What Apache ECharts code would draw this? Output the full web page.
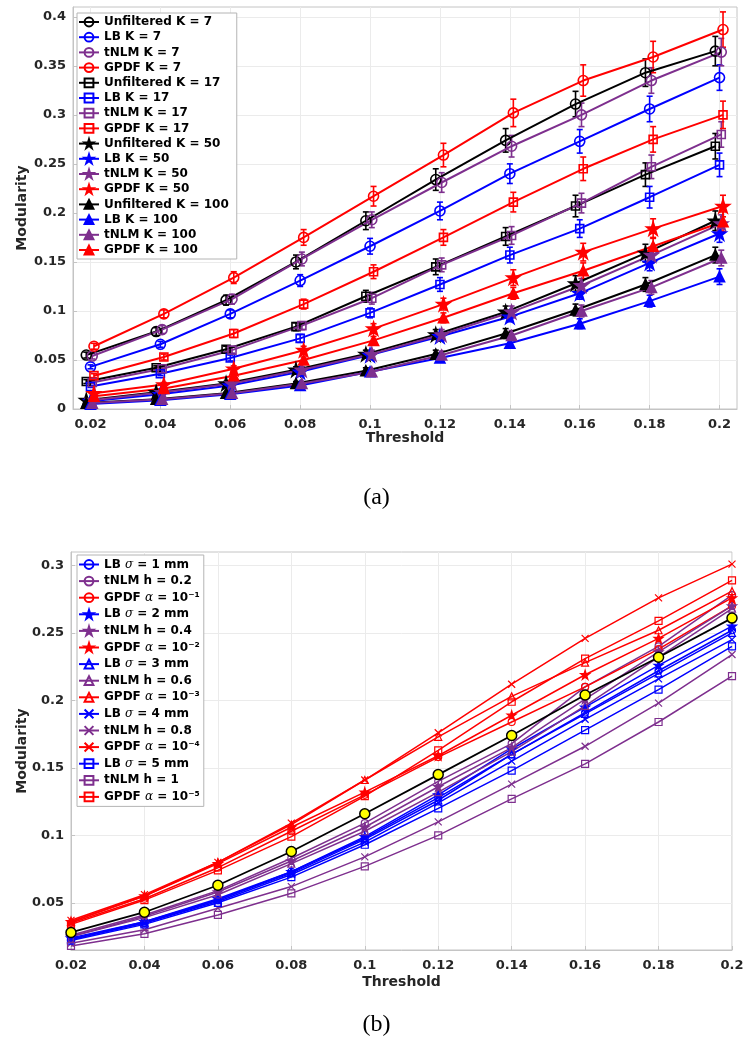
<!DOCTYPE html>
<html><head><meta charset="utf-8">
<script src="https://cdn.jsdelivr.net/npm/echarts@6/dist/echarts.min.js"></script>
<style>html,body{margin:0;padding:0;background:#fff}#c{width:753px;height:1050px}</style>
</head><body><div id="c"></div>
<script>
// ---------- shared ----------
const thresholds = [0.02, 0.04, 0.06, 0.08, 0.10, 0.12, 0.14, 0.16, 0.18, 0.20];
const xTicks = [0.02, 0.04, 0.06, 0.08, 0.10, 0.12, 0.14, 0.16, 0.18, 0.20];
const yTicksA = [0, 0.05, 0.10, 0.15, 0.20, 0.25, 0.30, 0.35, 0.40];
const yTicksB = [0.05, 0.10, 0.15, 0.20, 0.25, 0.30];

// ---------- panel (a): values ----------
const unfK7   = [0.055, 0.079, 0.111, 0.150, 0.192, 0.234, 0.274, 0.311, 0.343, 0.365];
const lbK7    = [0.043, 0.066, 0.097, 0.131, 0.166, 0.202, 0.240, 0.273, 0.306, 0.338];
const tnlmK7  = [0.054, 0.081, 0.112, 0.153, 0.193, 0.231, 0.268, 0.300, 0.335, 0.364];
const gpdfK7  = [0.064, 0.097, 0.134, 0.175, 0.217, 0.259, 0.302, 0.335, 0.359, 0.387];
const unfK17  = [0.028, 0.042, 0.061, 0.084, 0.115, 0.145, 0.176, 0.207, 0.239, 0.268];
const lbK17   = [0.023, 0.036, 0.052, 0.072, 0.098, 0.127, 0.157, 0.184, 0.216, 0.249];
const tnlmK17 = [0.027, 0.041, 0.060, 0.085, 0.113, 0.147, 0.177, 0.210, 0.247, 0.280];
const gpdfK17 = [0.034, 0.053, 0.077, 0.107, 0.140, 0.175, 0.211, 0.245, 0.275, 0.300];
const unfK50  = [0.009, 0.017, 0.026, 0.040, 0.056, 0.076, 0.099, 0.128, 0.159, 0.192];
const lbK50   = [0.008, 0.015, 0.024, 0.038, 0.055, 0.074, 0.094, 0.118, 0.149, 0.179];
const tnlmK50 = [0.009, 0.017, 0.026, 0.040, 0.056, 0.076, 0.099, 0.126, 0.157, 0.189];
const gpdfK50 = [0.016, 0.025, 0.041, 0.060, 0.082, 0.107, 0.134, 0.160, 0.184, 0.207];
const unfK100  = [0.006, 0.010, 0.016, 0.026, 0.039, 0.056, 0.077, 0.101, 0.127, 0.157];
const lbK100   = [0.005, 0.009, 0.015, 0.024, 0.038, 0.052, 0.067, 0.087, 0.110, 0.135];
const tnlmK100 = [0.006, 0.010, 0.016, 0.026, 0.038, 0.055, 0.075, 0.100, 0.124, 0.154];
const gpdfK100 = [0.013, 0.021, 0.034, 0.050, 0.070, 0.093, 0.118, 0.141, 0.166, 0.191];

// ---------- panel (a): error bar half-lengths ----------
const unfK7Err   = [0.003, 0.004, 0.005, 0.007, 0.009, 0.011, 0.012, 0.013, 0.014, 0.015];
const lbK7Err    = [0.002, 0.003, 0.004, 0.006, 0.008, 0.009, 0.010, 0.012, 0.013, 0.013];
const tnlmK7Err  = [0.003, 0.004, 0.005, 0.007, 0.008, 0.010, 0.011, 0.012, 0.013, 0.014];
const gpdfK7Err  = [0.003, 0.004, 0.006, 0.008, 0.010, 0.012, 0.014, 0.016, 0.016, 0.018];
const unfK17Err  = [0.002, 0.002, 0.003, 0.004, 0.006, 0.008, 0.009, 0.011, 0.012, 0.013];
const lbK17Err   = [0.001, 0.002, 0.003, 0.004, 0.005, 0.007, 0.008, 0.009, 0.011, 0.012];
const tnlmK17Err = [0.001, 0.002, 0.003, 0.004, 0.006, 0.007, 0.009, 0.010, 0.012, 0.013];
const gpdfK17Err = [0.002, 0.003, 0.004, 0.005, 0.007, 0.008, 0.010, 0.012, 0.013, 0.014];
const unfK50Err  = [0.001, 0.001, 0.002, 0.003, 0.004, 0.005, 0.006, 0.008, 0.009, 0.010];
const lbK50Err   = [0.001, 0.001, 0.002, 0.002, 0.003, 0.004, 0.005, 0.006, 0.008, 0.009];
const tnlmK50Err = [0.001, 0.001, 0.002, 0.003, 0.004, 0.005, 0.006, 0.007, 0.008, 0.009];
const gpdfK50Err = [0.001, 0.002, 0.003, 0.004, 0.005, 0.006, 0.008, 0.009, 0.010, 0.011];
const unfK100Err  = [0.001, 0.001, 0.001, 0.002, 0.003, 0.004, 0.005, 0.006, 0.007, 0.008];
const lbK100Err   = [0.001, 0.001, 0.001, 0.002, 0.002, 0.003, 0.004, 0.005, 0.006, 0.008];
const tnlmK100Err = [0.001, 0.001, 0.001, 0.002, 0.003, 0.004, 0.005, 0.006, 0.007, 0.008];
const gpdfK100Err = [0.001, 0.001, 0.002, 0.003, 0.004, 0.005, 0.006, 0.008, 0.009, 0.010];

// ---------- panel (b): values ----------
const unfB    = [0.028, 0.043, 0.063, 0.088, 0.116, 0.145, 0.174, 0.204, 0.232, 0.261];
const lbS1    = [0.023, 0.036, 0.052, 0.073, 0.098, 0.128, 0.160, 0.191, 0.222, 0.252];
const tnlmH02 = [0.026, 0.041, 0.059, 0.083, 0.109, 0.140, 0.168, 0.210, 0.240, 0.278];
const gpdfA1  = [0.035, 0.053, 0.076, 0.103, 0.130, 0.158, 0.184, 0.210, 0.238, 0.270];
const lbS2    = [0.024, 0.036, 0.053, 0.073, 0.099, 0.130, 0.164, 0.195, 0.226, 0.255];
const tnlmH04 = [0.025, 0.040, 0.058, 0.081, 0.106, 0.136, 0.165, 0.201, 0.236, 0.270];
const gpdfA2  = [0.036, 0.055, 0.079, 0.106, 0.132, 0.159, 0.189, 0.219, 0.246, 0.276];
const lbS3    = [0.023, 0.035, 0.052, 0.072, 0.097, 0.126, 0.160, 0.190, 0.220, 0.250];
const tnlmH06 = [0.025, 0.039, 0.056, 0.079, 0.103, 0.132, 0.162, 0.196, 0.232, 0.268];
const gpdfA3  = [0.036, 0.055, 0.080, 0.108, 0.141, 0.173, 0.203, 0.228, 0.252, 0.281];
const lbS4    = [0.023, 0.035, 0.051, 0.071, 0.095, 0.124, 0.155, 0.186, 0.216, 0.245];
const tnlmH08 = [0.020, 0.030, 0.046, 0.062, 0.084, 0.110, 0.138, 0.166, 0.198, 0.234];
const gpdfA4  = [0.037, 0.056, 0.080, 0.109, 0.141, 0.176, 0.212, 0.246, 0.276, 0.301];
const lbS5    = [0.022, 0.034, 0.050, 0.069, 0.093, 0.120, 0.148, 0.178, 0.208, 0.240];
const tnlmH1  = [0.018, 0.027, 0.041, 0.057, 0.077, 0.100, 0.127, 0.153, 0.184, 0.218];
const gpdfA5  = [0.034, 0.052, 0.074, 0.099, 0.129, 0.163, 0.199, 0.231, 0.259, 0.289];

// ---------- styles ----------
const BLACK = '#000000', BLUE = '#0000FF', PURPLE = '#7E2F8E', RED = '#FF0000';
const STAR = 'path://M100,0L122.45,69.1L195.1,69.1L136.3,111.8L158.8,180.9L100,138.2L41.2,180.9L63.7,111.8L4.9,69.1L77.55,69.1Z';
const CROSS = 'path://M0,0L10,10M10,0L0,10';
const FONT = 'DejaVu Sans';
const HOLLOW = 'rgba(255,255,255,0)';

const methodA = {
  Unfiltered: { color: BLACK, dx: -0.0012 },
  LB: { color: BLUE, dx: 0 },
  tNLM: { color: PURPLE, dx: 0.0005 },
  GPDF: { color: RED, dx: 0.001 }
};
const kStyle = {
  7: { symbol: 'circle', size: 10, filled: false },
  17: { symbol: 'rect', size: 8, filled: false },
  50: { symbol: STAR, size: 13, filled: true },
  100: { symbol: 'triangle', size: 10, filled: true }
};
const listA = [
  ['Unfiltered', 7, unfK7, unfK7Err], ['LB', 7, lbK7, lbK7Err], ['tNLM', 7, tnlmK7, tnlmK7Err], ['GPDF', 7, gpdfK7, gpdfK7Err],
  ['Unfiltered', 17, unfK17, unfK17Err], ['LB', 17, lbK17, lbK17Err], ['tNLM', 17, tnlmK17, tnlmK17Err], ['GPDF', 17, gpdfK17, gpdfK17Err],
  ['Unfiltered', 50, unfK50, unfK50Err], ['LB', 50, lbK50, lbK50Err], ['tNLM', 50, tnlmK50, tnlmK50Err], ['GPDF', 50, gpdfK50, gpdfK50Err],
  ['Unfiltered', 100, unfK100, unfK100Err], ['LB', 100, lbK100, lbK100Err], ['tNLM', 100, tnlmK100, tnlmK100Err], ['GPDF', 100, gpdfK100, gpdfK100Err]
];

const methodB = { LB: BLUE, tNLM: PURPLE, GPDF: RED };
const listB = [
  ['LB σ = 1 mm', 'LB', 'circle', false, lbS1],
  ['tNLM h = 0.2', 'tNLM', 'circle', false, tnlmH02],
  ['GPDF α = 10⁻¹', 'GPDF', 'circle', false, gpdfA1],
  ['LB σ = 2 mm', 'LB', STAR, true, lbS2],
  ['tNLM h = 0.4', 'tNLM', STAR, true, tnlmH04],
  ['GPDF α = 10⁻²', 'GPDF', STAR, true, gpdfA2],
  ['LB σ = 3 mm', 'LB', 'triangle', false, lbS3],
  ['tNLM h = 0.6', 'tNLM', 'triangle', false, tnlmH06],
  ['GPDF α = 10⁻³', 'GPDF', 'triangle', false, gpdfA3],
  ['LB σ = 4 mm', 'LB', CROSS, false, lbS4],
  ['tNLM h = 0.8', 'tNLM', CROSS, false, tnlmH08],
  ['GPDF α = 10⁻⁴', 'GPDF', CROSS, false, gpdfA4],
  ['LB σ = 5 mm', 'LB', 'rect', false, lbS5],
  ['tNLM h = 1', 'tNLM', 'rect', false, tnlmH1],
  ['GPDF α = 10⁻⁵', 'GPDF', 'rect', false, gpdfA5]
];

const series = [];
const namesA = [];
listA.forEach(([m, k, vals, errs]) => {
  const name = m + ' K = ' + k;
  namesA.push(name);
  const c = methodA[m].color, dx = methodA[m].dx, ks = kStyle[k];
  series.push({
    type: 'custom', name: name + ' err', xAxisIndex: 0, yAxisIndex: 0, silent: true,
    encode: { x: 0, y: 1 },
    data: vals.map((v, i) => [thresholds[i] + dx, v, errs[i]]),
    renderItem: (params, api) => {
      const x = api.value(0), y = api.value(1), e = api.value(2);
      const lo = api.coord([x, y - e]), hi = api.coord([x, y + e]);
      const cw = 3, st = { stroke: c, lineWidth: 1.6 };
      return { type: 'group', children: [
        { type: 'line', shape: { x1: lo[0], y1: lo[1], x2: hi[0], y2: hi[1] }, style: st },
        { type: 'line', shape: { x1: hi[0] - cw, y1: hi[1], x2: hi[0] + cw, y2: hi[1] }, style: st },
        { type: 'line', shape: { x1: lo[0] - cw, y1: lo[1], x2: lo[0] + cw, y2: lo[1] }, style: st }
      ]};
    }
  });
  series.push({
    type: 'line', name: name, xAxisIndex: 0, yAxisIndex: 0,
    data: vals.map((v, i) => [thresholds[i] + dx, v]),
    symbol: ks.symbol, symbolSize: ks.size, showAllSymbol: true,
    lineStyle: { color: c, width: 2 },
    itemStyle: { color: ks.filled ? c : HOLLOW, borderColor: c, borderWidth: 1.6 },
    emphasis: { disabled: true }
  });
});

const namesB = [];
listB.forEach(([name, m, sym, filled, vals]) => {
  namesB.push(name);
  const c = methodB[m];
  series.push({
    type: 'line', name: name, xAxisIndex: 1, yAxisIndex: 1,
    data: vals.map((v, i) => [thresholds[i], v]),
    symbol: sym, symbolSize: sym === STAR ? 9 : 7, showAllSymbol: true,
    lineStyle: { color: c, width: 1.5 },
    itemStyle: { color: filled ? c : HOLLOW, borderColor: c, borderWidth: 1.2 },
    emphasis: { disabled: true }
  });
});
series.push({
  type: 'line', name: 'Unfiltered', xAxisIndex: 1, yAxisIndex: 1,
  data: unfB.map((v, i) => [thresholds[i], v]),
  symbol: 'circle', symbolSize: 10, showAllSymbol: true,
  lineStyle: { color: BLACK, width: 1.8 },
  itemStyle: { color: '#FFFF00', borderColor: BLACK, borderWidth: 1.5 },
  emphasis: { disabled: true }, z: 5
});

const fmt = v => String(+(+v).toFixed(3));
const tickLabel = { fontFamily: FONT, fontWeight: 'bold', fontSize: 13, color: '#262626' };
const axisGray = '#c4c4c4';
function xAxisCfg(grid, min, max, gap) {
  return {
    type: 'value', gridIndex: grid, min: min, max: max,
    axisLine: { show: true, onZero: false, lineStyle: { color: axisGray } },
    axisTick: { show: true, inside: true, length: 4, customValues: xTicks, lineStyle: { color: axisGray } },
    axisLabel: Object.assign({ customValues: xTicks, formatter: fmt, margin: 9 }, tickLabel),
    splitLine: { show: true, lineStyle: { color: '#ebebeb', width: 1 } },
    name: 'Threshold', nameLocation: 'middle', nameGap: gap, nameMoveOverlap: false,
    nameTextStyle: { fontFamily: FONT, fontWeight: 'bold', fontSize: 14, color: '#262626' }
  };
}
function yAxisCfg(grid, min, max, ticks, gap) {
  return {
    type: 'value', gridIndex: grid, min: min, max: max,
    axisLine: { show: true, onZero: false, lineStyle: { color: axisGray } },
    axisTick: { show: true, inside: true, length: 4, customValues: ticks, lineStyle: { color: axisGray } },
    axisLabel: Object.assign({ customValues: ticks, formatter: fmt, margin: 7 }, tickLabel),
    splitLine: { show: true, lineStyle: { color: '#ebebeb', width: 1 } },
    name: 'Modularity', nameLocation: 'middle', nameGap: gap, nameMoveOverlap: false,
    nameTextStyle: { fontFamily: FONT, fontWeight: 'bold', fontSize: 14, color: '#262626' }
  };
}

const legendBase = {
  orient: 'vertical', itemWidth: 20, selectedMode: false,
  backgroundColor: '#ffffff', borderColor: '#b4b4b4', borderWidth: 1,
  textStyle: { fontFamily: FONT, fontWeight: 'bold', fontSize: 12, color: '#000' }
};

const option = {
  animation: false,
  backgroundColor: '#ffffff',
  grid: [
    { left: 73, top: 7, width: 664, height: 402, show: true, borderColor: axisGray, borderWidth: 1, backgroundColor: 'transparent' },
    { left: 71, top: 552, width: 661, height: 398, show: true, borderColor: axisGray, borderWidth: 1, backgroundColor: 'transparent' }
  ],
  xAxis: [xAxisCfg(0, 0.015, 0.205, 22), xAxisCfg(1, 0.02, 0.2, 25)],
  yAxis: [yAxisCfg(0, 0, 0.41, yTicksA, 44), yAxisCfg(1, 0.015, 0.31, yTicksB, 42)],
  legend: [
    Object.assign({}, legendBase, {
      data: namesA, left: 77, top: 13, padding: [2, 8, 2, 1], itemGap: 1.2, itemHeight: 11,
      textStyle: Object.assign({}, legendBase.textStyle, { lineHeight: 14 })
    }),
    Object.assign({}, legendBase, {
      data: namesB, left: 77, top: 555, padding: [2, 4, 2, 1], itemGap: 1.6, itemHeight: 11,
      formatter: n => n.replace(/([σα])/, '{g|$1}'),
      textStyle: Object.assign({}, legendBase.textStyle, { lineHeight: 15,
        rich: { g: { fontFamily: 'DejaVu Serif', fontStyle: 'italic', fontWeight: 'normal', fontSize: 12, color: '#000', lineHeight: 15 } } })
    })
  ],
  graphic: [
    { type: 'text', left: 'center', top: 486, style: { text: '(a)', font: '24px "Liberation Serif"', fill: '#000' } },
    { type: 'text', left: 'center', top: 1013, style: { text: '(b)', font: '24px "Liberation Serif"', fill: '#000' } }
  ],
  series: series
};

const chart = echarts.init(document.getElementById('c'), null, { renderer: 'canvas' });
chart.setOption(option);
</script></body></html>
